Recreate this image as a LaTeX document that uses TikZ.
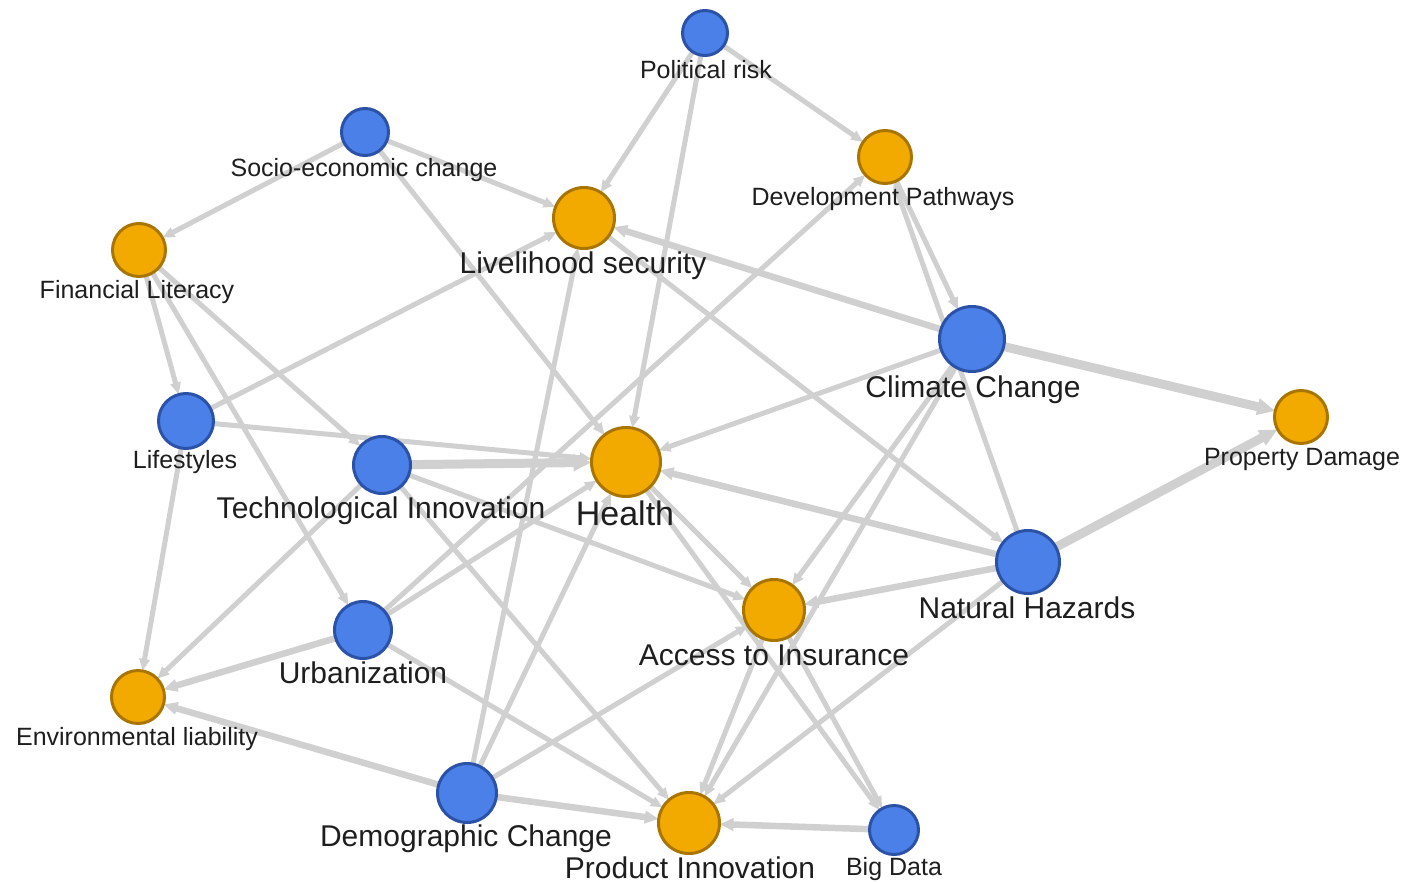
\documentclass[tikz,border=0pt]{standalone}
\usepackage{fontspec}
\setmainfont{Liberation Sans}
\usetikzlibrary{arrows.meta,backgrounds}
\definecolor{nblue}{HTML}{4A80E8}
\definecolor{nblueb}{HTML}{2C52A8}
\definecolor{norange}{HTML}{F2AA00}
\definecolor{norangeb}{HTML}{A87600}
\definecolor{edgegray}{HTML}{D0D0D0}
\definecolor{txt}{HTML}{1E1E1E}
\begin{document}
\begin{tikzpicture}[x=1pt,y=-1pt,
  bnode/.style={circle,fill=nblue,draw=nblueb,line width=3pt,inner sep=0pt,outer sep=0pt,minimum size=#1},
  onode/.style={circle,fill=norange,draw=norangeb,line width=3pt,inner sep=0pt,outer sep=0pt,minimum size=#1},
  slabel/.style={anchor=base,inner sep=0pt,text=txt,font=\fontsize{25}{30}\selectfont},
  llabel/.style={anchor=base,inner sep=0pt,text=txt,font=\fontsize{30}{36}\selectfont},
  hlabel/.style={anchor=base,inner sep=0pt,text=txt,font=\fontsize{34}{40}\selectfont},
  link/.style={draw=edgegray,line width=5pt,-{Triangle[length=12pt,width=10pt]}},
  midlink/.style={draw=edgegray,line width=6.5pt,-{Triangle[length=14pt,width=12pt]}},
  thicklink/.style={draw=edgegray,line width=9pt,-{Triangle[length=18pt,width=16pt]}},
]
\useasboundingbox (0,0) rectangle (1414,883);

% nodes
\node[bnode=45pt] (PR) at (705,33) {};
\node[bnode=47pt] (SE) at (365,132) {};
\node[onode=53pt] (DP) at (885,157) {};
\node[onode=61pt] (LS) at (584,218) {};
\node[onode=53pt] (FL) at (139,250) {};
\node[bnode=65pt] (CC) at (972,339) {};
\node[onode=53pt] (PD) at (1301,417) {};
\node[bnode=55pt] (LF) at (186,421) {};
\node[bnode=57pt] (TI) at (382,465) {};
\node[onode=69pt] (H) at (626,462) {};
\node[bnode=63pt] (NH) at (1028,562) {};
\node[onode=61pt] (AI) at (774,610) {};
\node[bnode=57pt] (U) at (363,630) {};
\node[onode=53pt] (EL) at (138,697) {};
\node[bnode=59pt] (DC) at (467,793) {};
\node[onode=61pt] (PI) at (689,823) {};
\node[bnode=49pt] (BD) at (894,830) {};

% labels
\node[slabel] (PRl) at (706,78) {Political risk};
\node[slabel] (SEl) at (364,176) {Socio-economic change};
\node[slabel] (DPl) at (883,205) {Development Pathways};
\node[llabel] (LSl) at (583,273) {Livelihood security};
\node[slabel] (FLl) at (137,298) {Financial Literacy};
\node[llabel] (CCl) at (973,397) {Climate Change};
\node[slabel] (PDl) at (1302,465) {Property Damage};
\node[slabel] (LFl) at (185,468) {Lifestyles};
\node[llabel] (TIl) at (381,518) {Technological Innovation};
\node[hlabel] (Hl) at (625,525) {Health};
\node[llabel] (NHl) at (1027,618) {Natural Hazards};
\node[llabel] (AIl) at (774,665) {Access to Insurance};
\node[llabel] (Ul) at (363,683) {Urbanization};
\node[slabel] (ELl) at (137,745) {Environmental liability};
\node[llabel] (DCl) at (466,846) {Demographic Change};
\node[llabel] (PIl) at (690,878) {Product Innovation};
\node[slabel] (BDl) at (894,875) {Big Data};

% edges
\begin{pgfonlayer}{background}
\fill[white] (0,0) rectangle (1414,883);
\draw[link] (PR) -- (LS);
\draw[link] (PR) -- (H);
\draw[link] (PR) -- (DP);
\draw[link] (SE) -- (FL);
\draw[link] (SE) -- (LS);
\draw[link] (SE) -- (H);
\draw[link] (LF) -- (LS);
\draw[link] (FL) -- (LF);
\draw[link] (FL) -- (U);
\draw[link] (FL) -- (TI);
\draw[link] (DC) -- (LS);
\draw[midlink] (CC) -- (LS);
\draw[link] (DP) -- (CC);
\draw[link] (NH) -- (DP);
\draw[thicklink] (CC) -- (PD);
\draw[thicklink] (NH) -- (PD);
\draw[link] (CC) -- (H);
\draw[link] (CC) -- (AI);
\draw[link] (CC) -- (PI);
\draw[link] (LS) -- (NH);
\draw[midlink] (NH) -- (H);
\draw[midlink] (NH) -- (AI);
\draw[link] (NH) -- (PI);
\draw[link] (H) -- (AI);
\draw[link] (H) -- (BD);
\draw[link] (AI) -- (BD);
\draw[link] (AI) -- (PI);
\draw[midlink] (BD) -- (PI);
\draw[thicklink] (TI) -- (H);
\draw[link] (LF) -- (H);
\draw[link] (TI) -- (AI);
\draw[link] (TI) -- (PI);
\draw[link] (TI) -- (EL);
\draw[link] (U) -- (H);
\draw[link] (U) -- (DP);
\draw[midlink] (U) -- (EL);
\draw[link] (U) -- (PI);
\draw[midlink] (DC) -- (EL);
\draw[midlink] (DC) -- (PI);
\draw[link] (DC) -- (AI);
\draw[link] (DC) -- (H);
\draw[link] (LF) -- (EL);
\end{pgfonlayer}
\end{tikzpicture}
\end{document}
